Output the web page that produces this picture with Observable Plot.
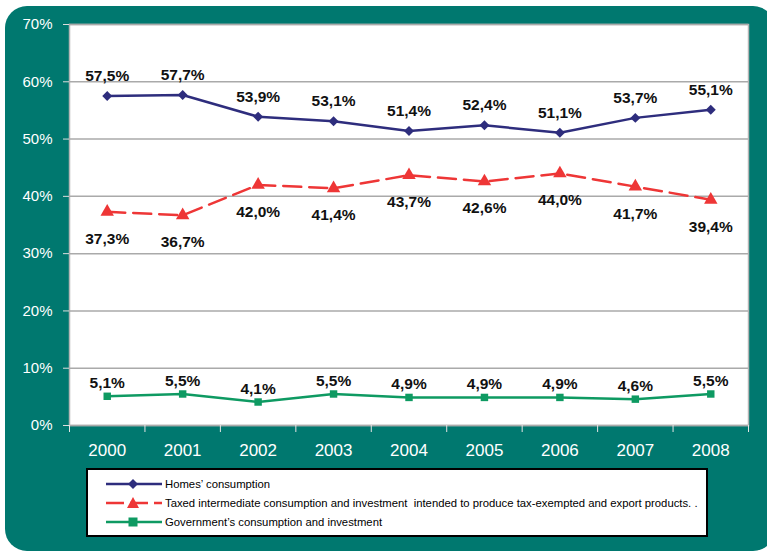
<!DOCTYPE html>
<html><head><meta charset="utf-8">
<script src="https://cdn.jsdelivr.net/npm/d3@7"></script>
<script src="https://cdn.jsdelivr.net/npm/@observablehq/plot@0.6"></script>
<style>
body{margin:0;background:#fff;font-family:"Liberation Sans",Arial,sans-serif;}
#wrap{position:relative;width:767px;height:553px;overflow:hidden;}
#bg{position:absolute;left:5px;top:6px;width:770px;height:545px;background:#00786f;border-radius:22px;}
#chart{position:absolute;left:0;top:0;}
#legend{position:absolute;left:86px;top:468px;width:618px;height:65px;border:2px solid #000;background:#fff;}
.row{position:absolute;left:18px;height:14px;display:flex;align-items:center;font-size:11.3px;color:#000;white-space:pre;}
.row svg{margin-right:3px;}
</style></head>
<body><div id="wrap"><div id="bg"></div><div id="chart"></div><div id="legend"></div></div>
<script>
const years = [2000, 2001, 2002, 2003, 2004, 2005, 2006, 2007, 2008];
const homes = [57.5, 57.7, 53.9, 53.1, 51.4, 52.4, 51.1, 53.7, 55.1];
const taxed = [37.3, 36.7, 42.0, 41.4, 43.7, 42.6, 44.0, 41.7, 39.4];
const gov = [5.1, 5.5, 4.1, 5.5, 4.9, 4.9, 4.9, 4.6, 5.5];
const yTicks = [0, 10, 20, 30, 40, 50, 60, 70];
const seriesNames = ["Homes’ consumption",
  "Taxed intermediate consumption and investment  intended to produce tax-exempted and export products. .",
  "Government’s consumption and investment"];

const C_H = "#2e2d7d", C_T = "#ee3636", C_G = "#0e9a62";
const rows = years.map((y, i) => ({year: y, homes: homes[i], taxed: taxed[i], gov: gov[i]}));
const fmt = v => v.toFixed(1).replace(".", ",") + "%";
const bounds = years.map(y => y - 0.5).concat([years[years.length - 1] + 0.5]);

const chart = Plot.plot({
  width: 767, height: 553,
  marginLeft: 69, marginRight: 19, marginTop: 24, marginBottom: 128,
  style: {background: "transparent", fontFamily: "'Liberation Sans', Arial, sans-serif"},
  x: {type: "linear", domain: [bounds[0], bounds[bounds.length - 1]]},
  y: {domain: [0, 70]},
  marks: [
    Plot.frame({fill: "white", stroke: "#b5b5b5", strokeWidth: 1.5}),
    Plot.gridY(yTicks, {stroke: "#aaa", strokeOpacity: 1, strokeWidth: 1.5}),
    Plot.axisY(yTicks, {tickFormat: d => d + "%", tickSize: 6, tickPadding: 11, fill: "white", stroke: "#ddd", fontSize: 15, label: null}),
    Plot.axisX(bounds, {tickFormat: () => "", tickSize: 7, stroke: "#e5e5e5", label: null}),
    Plot.axisX(years, {tickFormat: d => String(d), tickSize: 0, tickPadding: 18, fill: "white", fontSize: 17, label: null}),
    Plot.line(rows, {x: "year", y: "homes", stroke: C_H, strokeWidth: 2.5}),
    Plot.line(rows, {x: "year", y: "taxed", stroke: C_T, strokeWidth: 2.5, strokeDasharray: "18,8"}),
    Plot.line(rows, {x: "year", y: "gov", stroke: C_G, strokeWidth: 2.5}),
    Plot.dot(rows, {x: "year", y: "homes", symbol: "diamond2", r: 4.5, fill: C_H}),
    Plot.dot(rows, {x: "year", y: "taxed", symbol: "triangle", r: 5, fill: C_T}),
    Plot.dot(rows, {x: "year", y: "gov", symbol: "square", r: 4.2, fill: C_G}),
    Plot.text(rows, {x: "year", y: "homes", text: d => fmt(d.homes), dy: -20, fontSize: 15.5, fontWeight: "bold", fill: "#111"}),
    Plot.text(rows, {x: "year", y: "taxed", text: d => fmt(d.taxed), dy: 27, fontSize: 15.5, fontWeight: "bold", fill: "#111"}),
    Plot.text(rows, {x: "year", y: "gov", text: d => fmt(d.gov), dy: -13, fontSize: 15.5, fontWeight: "bold", fill: "#111"})
  ]
});
document.getElementById("chart").appendChild(chart);

// legend
const legend = document.getElementById("legend");
const sym = [
  `<polygon points="27,0 32,5 27,10 22,5" fill="${C_H}"/>`,
  `<polygon points="27,-1 33,10 21,10" fill="${C_T}"/>`,
  `<rect x="22.5" y="0.5" width="9" height="9" fill="${C_G}"/>`
];
const dash = ["", "stroke-dasharray='18,6'", ""];
const cols = [C_H, C_T, C_G];
const tops = [7, 26, 45];
seriesNames.forEach((name, i) => {
  const r = document.createElement("div");
  r.className = "row";
  r.style.top = tops[i] + "px";
  r.innerHTML = `<svg width="56" height="12" viewBox="0 -1 56 12" overflow="visible"><line x1="0" x2="56" y1="5" y2="5" stroke="${cols[i]}" stroke-width="2.5" ${dash[i]}/>${sym[i]}</svg><span>${name}</span>`;
  legend.appendChild(r);
});
</script></body></html>
